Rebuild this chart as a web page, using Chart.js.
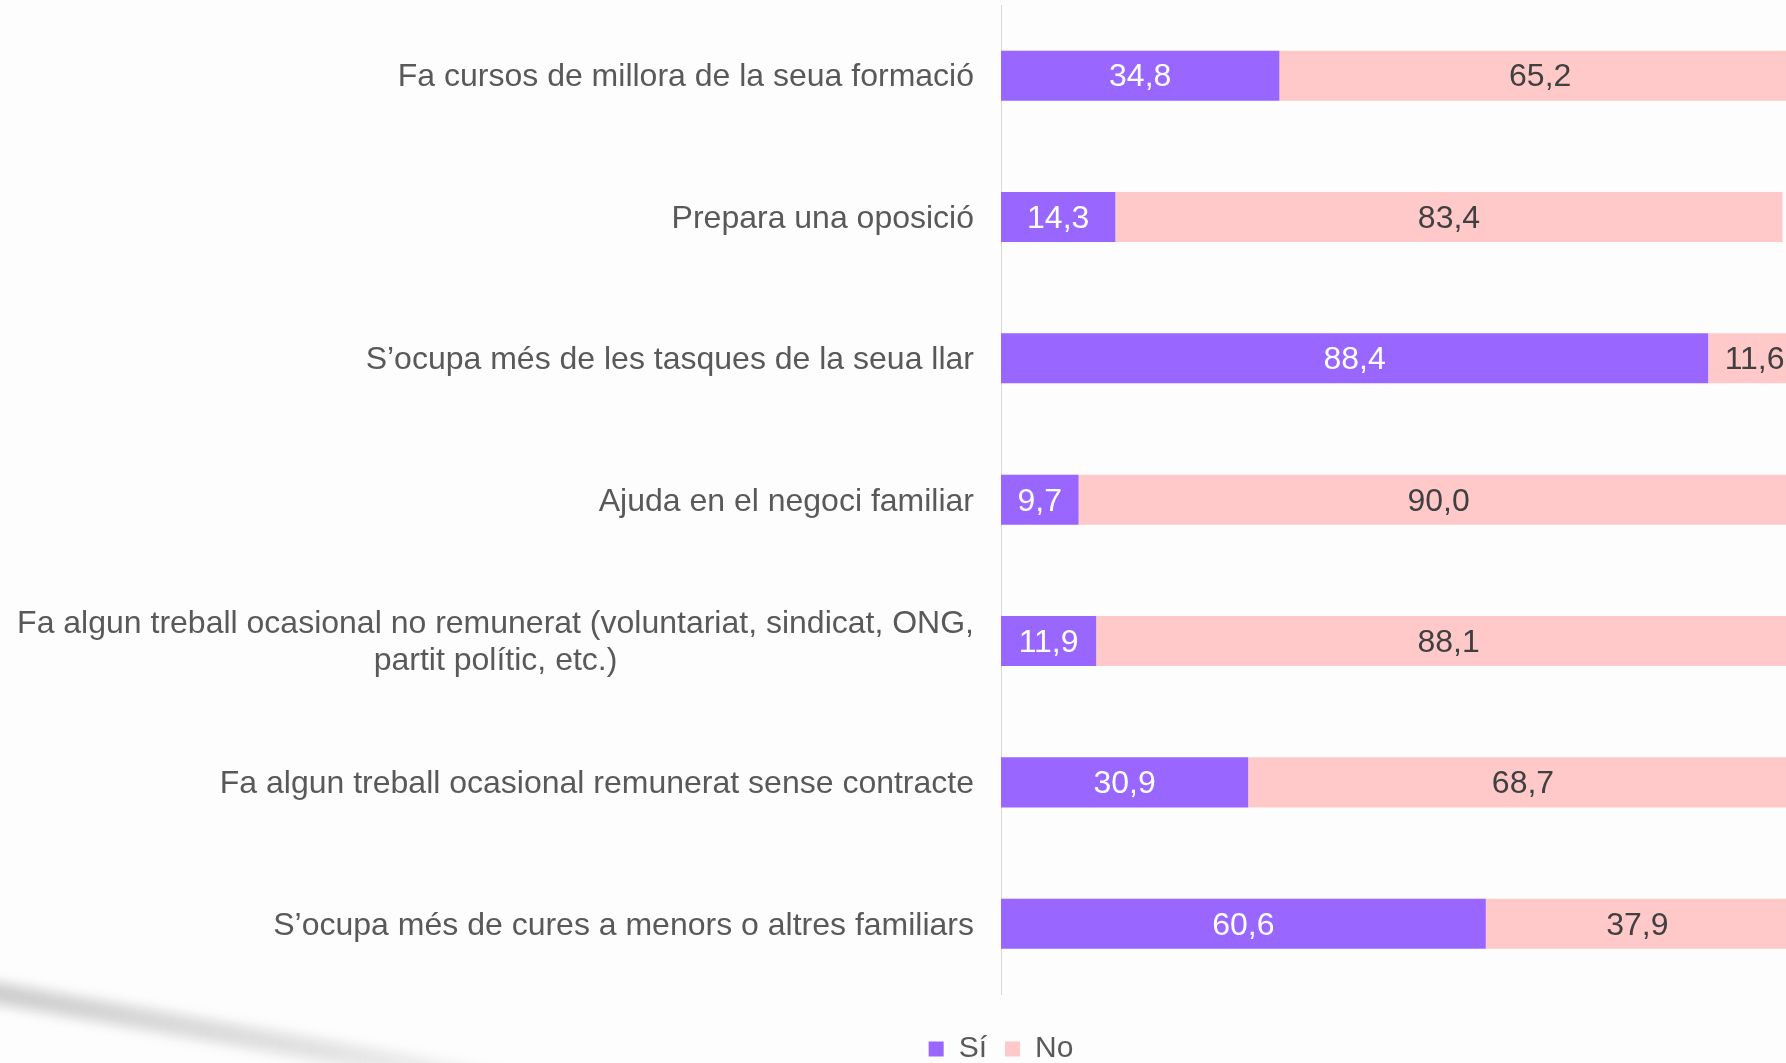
<!DOCTYPE html>
<html>
<head>
<meta charset="utf-8">
<script src="https://cdn.jsdelivr.net/npm/chart.js@4.4.1/dist/chart.umd.min.js"></script>
<style>
  html, body { margin: 0; padding: 0; background: #fdfdfd; overflow: hidden; width: 1786px; height: 1063px; }
  #wrap { position: relative; width: 1786px; height: 1063px; overflow: hidden; }
  #swoosh {
    position: absolute; left: -60px; top: 972px; width: 640px; height: 22px;
    background: linear-gradient(90deg, rgba(160,160,160,0.55), rgba(185,185,185,0.4) 60%, rgba(220,220,220,0.1));
    transform: rotate(10deg); transform-origin: left center; filter: blur(6px);
  }
  canvas { position: absolute; left: 0; top: 0; }
</style>
</head>
<body>
<div id="wrap">
  <div id="swoosh"></div>
  <canvas id="chart" width="2002" height="1074" style="width:2002px;height:1074px"></canvas>
</div>
<script>
var categories = [
  "Fa cursos de millora de la seua formació",
  "Prepara una oposició",
  "S’ocupa més de les tasques de la seua llar",
  "Ajuda en el negoci familiar",
  ["Fa algun treball ocasional no remunerat (voluntariat, sindicat, ONG,", "partit polític, etc.)"],
  "Fa algun treball ocasional remunerat sense contracte",
  "S’ocupa més de cures a menors o altres familiars"
];
var siValues = [34.8, 14.3, 88.4, 9.7, 11.9, 30.9, 60.6];
var noValues = [65.2, 83.4, 11.6, 90.0, 88.1, 68.7, 37.9];
var seriesNames = ["Sí", "No"];

var FONT = '"Liberation Sans", Arial, sans-serif';

function fmt(v) {
  return v.toFixed(1).replace(".", ",");
}

// category labels, centred line by line like the original
var yLabels = {
  id: "yLabels",
  afterDraw(chart) {
    var ctx = chart.ctx;
    var yScale = chart.scales.y;
    var right = chart.chartArea.left - 27;
    ctx.save();
    ctx.font = "32px " + FONT;
    ctx.fillStyle = "#595959";
    ctx.textBaseline = "middle";
    ctx.textAlign = "center";
    chart.data.labels.forEach(function (lab, i) {
      var lines = [].concat(lab);
      var widest = Math.max.apply(null, lines.map(function (l) { return ctx.measureText(l).width; }));
      var cx = right - widest / 2;
      var yc = yScale.getPixelForTick(i);
      lines.forEach(function (l, j) {
        ctx.fillText(l, cx, yc + 2 + (j - (lines.length - 1) / 2) * 37);
      });
    });
    ctx.restore();
  }
};

// values inside the bars
var barValues = {
  id: "barValues",
  afterDatasetsDraw(chart) {
    var ctx = chart.ctx;
    ctx.save();
    ctx.font = "32px " + FONT;
    ctx.textAlign = "center";
    ctx.textBaseline = "middle";
    chart.data.datasets.forEach(function (ds, di) {
      var meta = chart.getDatasetMeta(di);
      ctx.fillStyle = di === 0 ? "#ffffff" : "#404040";
      meta.data.forEach(function (bar, i) {
        var p = bar.getProps(["x", "base", "y"], true);
        ctx.fillText(fmt(ds.data[i]), (p.x + p.base) / 2, p.y + 2);
      });
    });
    ctx.restore();
  }
};

new Chart(document.getElementById("chart"), {
  type: "bar",
  data: {
    labels: categories,
    datasets: [
      { label: seriesNames[0], data: siValues, backgroundColor: "#9966ff" },
      { label: seriesNames[1], data: noValues, backgroundColor: "#ffc9c9" }
    ]
  },
  options: {
    indexAxis: "y",
    responsive: false,
    animation: false,
    devicePixelRatio: 1,
    layout: { padding: { top: 5, right: 0, left: 0, bottom: 0 } },
    datasets: { bar: { categoryPercentage: 1, barPercentage: 0.354 } },
    scales: {
      x: {
        stacked: true,
        min: 0,
        max: 100,
        grid: { display: false },
        border: { display: false },
        ticks: { display: false },
        afterFit: function (s) { s.height = 21.6; }
      },
      y: {
        stacked: true,
        grid: { display: false },
        border: { display: true, color: "#d9d9d9", width: 1 },
        ticks: { display: false },
        afterFit: function (s) { s.width = 1001; }
      },
      // empty right axis: the plot runs past the picture's right edge
      y2: {
        type: "linear",
        position: "right",
        grid: { display: false },
        border: { display: false },
        ticks: { display: false },
        afterFit: function (s) { s.width = 201; }
      }
    },
    plugins: {
      tooltip: { enabled: false },
      legend: {
        position: "bottom",
        labels: {
          font: { family: FONT, size: 30 },
          color: "#595959",
          boxWidth: 15,
          boxHeight: 15,
          padding: 18
        }
      }
    }
  },
  plugins: [yLabels, barValues]
});
</script>
</body>
</html>
